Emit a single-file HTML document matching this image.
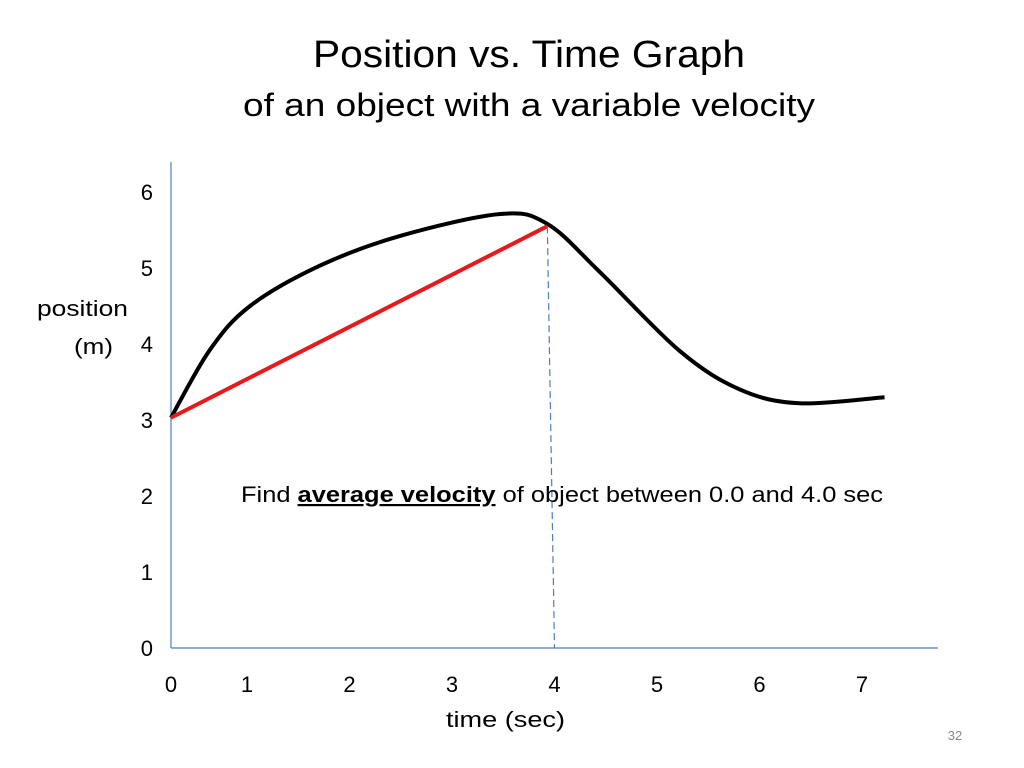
<!DOCTYPE html>
<html><head><meta charset="utf-8"><style>
body{margin:0;background:#fff;}
svg{display:block;font-family:"Liberation Sans",sans-serif;}
</style></head><body>
<svg width="1024" height="768" viewBox="0 0 1024 768">
<text x="313" y="67" font-size="38" textLength="432" lengthAdjust="spacingAndGlyphs">Position vs. Time Graph</text>
<text x="243" y="116" font-size="32" textLength="572" lengthAdjust="spacingAndGlyphs">of an object with a variable velocity</text>
<line x1="171" y1="162" x2="171" y2="648" stroke="#4a7ebb" stroke-width="1.2"/>
<line x1="171" y1="648" x2="938" y2="648" stroke="#4a7ebb" stroke-width="1.2"/>
<g id="yt"></g><g id="xt"></g>
<text x="37" y="316" font-size="22" textLength="91" lengthAdjust="spacingAndGlyphs">position</text>
<text x="74" y="354" font-size="22" textLength="39" lengthAdjust="spacingAndGlyphs">(m)</text>
<text x="446" y="727" font-size="22" textLength="119" lengthAdjust="spacingAndGlyphs">time  (sec)</text>
<path id="curve" fill="none" stroke="#000" stroke-width="4"/>
<line id="secant" stroke="#e8191c" stroke-width="4"/>
<line id="drop" stroke="#4a7ebb" stroke-width="1.2" stroke-dasharray="7,4"/>
<text x="241" y="502" font-size="22" textLength="642" lengthAdjust="spacingAndGlyphs">Find <tspan font-weight="bold" text-decoration="underline">average velocity</tspan> of object between 0.0 and 4.0 sec</text>
<text x="955" y="740" text-anchor="middle" font-size="13" fill="#888">32</text>
</svg>
<script>
const xTicks=[0,1,2,3,4,5,6,7];
const yTicks=[0,1,2,3,4,5,6];
const curveT=[0,0.51,1.03,1.71,2.49,3.47,3.93,4.44,5.22,5.81,6.39,7.22];
const curveP=[3.03,3.92,4.5,5.03,5.42,5.71,5.58,4.95,3.91,3.4,3.22,3.3];
const secantStart=[0,3.03];
const secantEnd=[3.93,5.55];
const dropT=[3.93,4];
function xs(t){return t<=1?171+76*t:247+102.5*(t-1);}
function ys(v){return 648-76*v;}
const NS="http://www.w3.org/2000/svg";
const yt=document.getElementById('yt'),xt=document.getElementById('xt');
yTicks.forEach(v=>{const t=document.createElementNS(NS,'text');t.setAttribute('x',153);t.setAttribute('y',ys(v)+8);t.setAttribute('text-anchor','end');t.setAttribute('font-size','22');t.textContent=v;


yt.appendChild(t);});
xTicks.forEach(v=>{const t=document.createElementNS(NS,'text');t.setAttribute('x',xs(v));t.setAttribute('y',692);t.setAttribute('text-anchor','middle');t.setAttribute('font-size','22');t.textContent=v;


xt.appendChild(t);});
const pts=curveT.map((t,i)=>[xs(t),ys(curveP[i])]);
let d='M'+pts[0][0]+','+pts[0][1];
for(let i=0;i<pts.length-1;i++){const p0=pts[Math.max(0,i-1)],p1=pts[i],p2=pts[i+1],p3=pts[Math.min(pts.length-1,i+2)];
d+=' C'+(p1[0]+(p2[0]-p0[0])/6)+','+(p1[1]+(p2[1]-p0[1])/6)+' '+(p2[0]-(p3[0]-p1[0])/6)+','+(p2[1]-(p3[1]-p1[1])/6)+' '+p2[0]+','+p2[1];}
document.getElementById('curve').setAttribute('d',d);
const s=document.getElementById('secant');
s.setAttribute('x1',xs(secantStart[0]));s.setAttribute('y1',ys(secantStart[1]));s.setAttribute('x2',xs(secantEnd[0]));s.setAttribute('y2',ys(secantEnd[1]));
const dl=document.getElementById('drop');
dl.setAttribute('x1',xs(dropT[0]));dl.setAttribute('y1',ys(secantEnd[1]));dl.setAttribute('x2',xs(dropT[1]));dl.setAttribute('y2',648);
</script>
</body></html>
